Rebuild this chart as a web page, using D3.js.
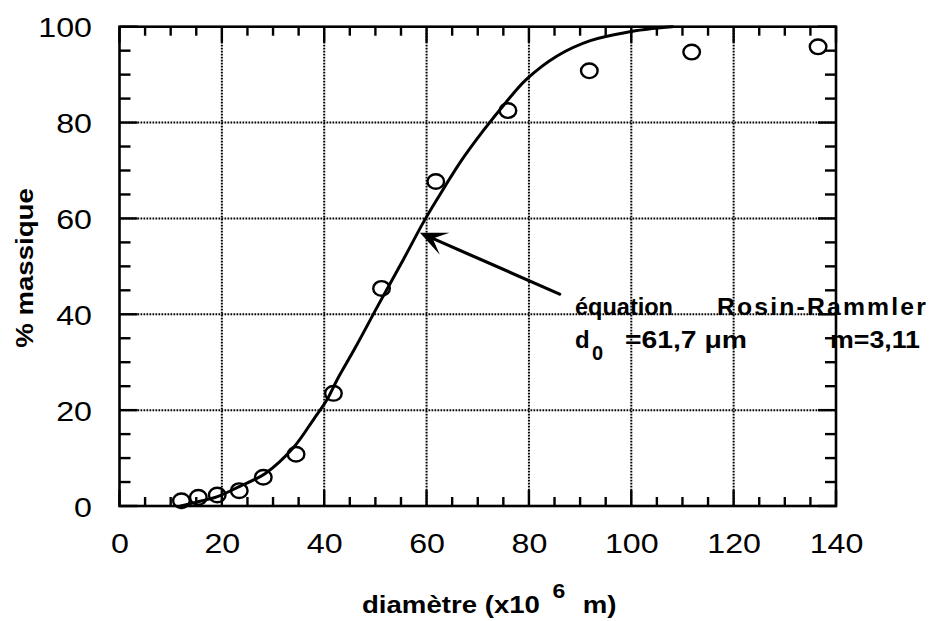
<!DOCTYPE html>
<html>
<head>
<meta charset="utf-8">
<script src="https://cdn.jsdelivr.net/npm/d3@7"></script>
<style>
  html, body { margin: 0; padding: 0; background: #fff; }
  svg { display: block; }
</style>
</head>
<body>
<svg id="chart" width="935" height="621"></svg>
<script>
// Measured particle size distribution: diameter (µm) vs cumulative mass %
const diameters   = [12.1, 15.4, 19.1, 23.4, 28.1, 34.5, 41.8, 51.2, 61.8, 75.9, 91.8, 111.8, 136.5];
const massPercent = [1.1, 1.8, 2.3, 3.2, 6.0, 10.8, 23.5, 45.4, 67.7, 82.5, 90.8, 94.7, 95.8];

// Rosin-Rammler fitted curve
const fitDiameters = [12, 15, 19, 23.5, 28.5, 34, 38, 40.5, 42.5, 46, 50.5, 55.5, 59.7, 63.5, 66.5, 71, 75.5, 79.5, 85.5, 92, 100, 104, 108];
const fitPercent   = [0, 0.8, 1.9, 4.1, 6.8, 12.2, 18.2, 22.1, 26.3, 32.9, 41.8, 51.5, 59.8, 66.5, 71.6, 78.2, 84.2, 89.0, 93.9, 97.1, 99, 99.6, 100];

// Axes
const xMajorTicks = [0, 20, 40, 60, 80, 100, 120, 140];
const yMajorTicks = [0, 20, 40, 60, 80, 100];
const tickStep = 5;
const xTitle = ["diamètre (x10", "6", "m)"];
const yTitle = "% massique";

// Annotation of the fitted law, with its arrow (data units)
const eqLine1 = ["équation", "Rosin-Rammler"];
const eqLine2 = ["d", "0", "=61,7 μm", "m=3,11"];
const arrowTip  = [58.7, 57.0];
const arrowTail = [86.0, 44.2];

const svg = d3.select("#chart");
const plotLeft = 119.5, plotRight = 836, plotTop = 26.7, plotBottom = 506;
const x = d3.scaleLinear().domain([0, 140]).range([plotLeft, plotRight]);
const y = d3.scaleLinear().domain([0, 100]).range([plotBottom, plotTop]);
const ink = "#000";
const stretch = "scale(1.15,1)";
const labelFont = "'Liberation Sans', Arial, Helvetica, sans-serif";

// dotted grid
const grid = svg.append("g")
  .attr("stroke", ink).attr("stroke-width", 2)
  .attr("stroke-dasharray", "1.7 1.3").attr("fill", "none");
grid.selectAll("line.v").data(xMajorTicks.slice(1, -1)).join("line")
  .attr("class", "v")
  .attr("x1", d => x(d)).attr("x2", d => x(d))
  .attr("y1", plotTop).attr("y2", plotBottom);
grid.selectAll("line.h").data(yMajorTicks.slice(1, -1)).join("line")
  .attr("class", "h")
  .attr("x1", plotLeft).attr("x2", plotRight)
  .attr("y1", d => y(d)).attr("y2", d => y(d));

// fitted curve
const curve = d3.line()
  .x((d, i) => x(fitDiameters[i]))
  .y((d, i) => y(fitPercent[i]))
  .curve(d3.curveCatmullRom.alpha(0.5));
svg.append("path")
  .datum(fitDiameters)
  .attr("d", curve)
  .attr("fill", "none").attr("stroke", ink)
  .attr("stroke-width", 3).attr("stroke-linejoin", "round").attr("stroke-linecap", "round");

// measured points, open circles
svg.append("g").selectAll("ellipse").data(diameters).join("ellipse")
  .attr("cx", (d) => x(d))
  .attr("cy", (d, i) => y(massPercent[i]))
  .attr("rx", 8.3).attr("ry", 7.3)
  .attr("fill", "none").attr("stroke", ink).attr("stroke-width", 2.4);

// frame
svg.append("rect")
  .attr("x", plotLeft).attr("y", plotTop)
  .attr("width", plotRight - plotLeft).attr("height", plotBottom - plotTop)
  .attr("fill", "none").attr("stroke", ink).attr("stroke-width", 2.6);

// ticks on all four sides, pointing inwards (every 5 units, longer on majors)
const xTickVals = d3.range(0, 140 + 0.1, tickStep);
const yTickVals = d3.range(0, 100 + 0.1, tickStep);
const xLen = d => (d % 20 === 0 ? 16 : 9);
const yLen = d => (d % 20 === 0 ? 18 : 11);
const ticks = svg.append("g");
ticks.selectAll("line.xb").data(xTickVals).join("line").attr("class", "xb")
  .attr("x1", d => x(d)).attr("x2", d => x(d))
  .attr("y1", plotBottom).attr("y2", d => plotBottom - xLen(d))
  .attr("stroke", ink).attr("stroke-width", 2.4);
ticks.selectAll("line.xt").data(xTickVals).join("line").attr("class", "xt")
  .attr("x1", d => x(d)).attr("x2", d => x(d))
  .attr("y1", plotTop).attr("y2", d => plotTop + xLen(d))
  .attr("stroke", ink).attr("stroke-width", 2.4);
ticks.selectAll("line.yl").data(yTickVals).join("line").attr("class", "yl")
  .attr("x1", plotLeft).attr("x2", d => plotLeft + yLen(d))
  .attr("y1", d => y(d)).attr("y2", d => y(d))
  .attr("stroke", ink).attr("stroke-width", 2.4);
ticks.selectAll("line.yr").data(yTickVals).join("line").attr("class", "yr")
  .attr("x1", plotRight).attr("x2", d => plotRight - yLen(d))
  .attr("y1", d => y(d)).attr("y2", d => y(d))
  .attr("stroke", ink).attr("stroke-width", 2.4);

// tick labels
svg.append("g")
  .attr("transform", `translate(0,${plotBottom})`)
  .call(d3.axisBottom(x).tickValues(xMajorTicks).tickSize(0).tickFormat(d3.format("d")))
  .call(g => g.select(".domain").remove())
  .call(g => g.selectAll("text")
    .attr("y", null).attr("dy", null)
    .attr("transform", `translate(0,47) ${stretch}`)
    .attr("font-family", labelFont).attr("font-size", 28).attr("fill", ink));
svg.append("g")
  .attr("transform", `translate(${plotLeft},0)`)
  .call(d3.axisLeft(y).tickValues(yMajorTicks).tickSize(0).tickFormat(d3.format("d")))
  .call(g => g.select(".domain").remove())
  .call(g => g.selectAll("text")
    .attr("x", null).attr("dy", null)
    .attr("transform", `translate(-27.5,10) ${stretch}`)
    .attr("font-family", labelFont).attr("font-size", 28).attr("fill", ink));

// axis titles
const title = svg.append("text")
  .attr("transform", `translate(362,613) ${stretch}`)
  .attr("font-family", labelFont).attr("font-weight", "bold")
  .attr("font-size", 24).attr("fill", ink);
title.append("tspan").text(xTitle[0]);
title.append("tspan").attr("dx", 11).attr("dy", -15).attr("font-size", 20).text(xTitle[1]);
title.append("tspan").attr("dx", 15).attr("dy", 15).text(xTitle[2]);

svg.append("text")
  .attr("transform", `translate(33,268) rotate(-90) ${stretch}`)
  .attr("text-anchor", "middle")
  .attr("font-family", labelFont).attr("font-weight", "bold")
  .attr("font-size", 24).attr("fill", ink)
  .text(yTitle);

// annotation arrow
const tip = [x(arrowTip[0]), y(arrowTip[1])];
const tail = [x(arrowTail[0]), y(arrowTail[1])];
const ang = Math.atan2(tail[1] - tip[1], tail[0] - tip[0]) * 180 / Math.PI;
const arrow = svg.append("g")
  .attr("transform", `translate(${tip[0]},${tip[1]}) rotate(${ang})`);
const len = Math.hypot(tail[0] - tip[0], tail[1] - tip[1]);
arrow.append("line")
  .attr("x1", 12).attr("y1", 0).attr("x2", len).attr("y2", 0)
  .attr("stroke", ink).attr("stroke-width", 3.2).attr("stroke-linecap", "round");
arrow.append("path")
  .attr("d", "M0,0 L27,-12 L14,0 L27,12 Z")
  .attr("fill", ink);

// annotation text
const ax = x(89.0), ay = y(39.85);
const ann = svg.append("g")
  .attr("font-family", labelFont).attr("font-weight", "bold").attr("fill", ink);
ann.append("text").attr("x", ax).attr("y", ay).attr("font-size", 24)
  .attr("textLength", 98).attr("lengthAdjust", "spacingAndGlyphs").text(eqLine1[0]);
ann.append("text").attr("x", ax + 142).attr("y", ay).attr("font-size", 23)
  .attr("letter-spacing", 2)
  .attr("textLength", 211).attr("lengthAdjust", "spacingAndGlyphs").text(eqLine1[1]);
ann.append("text").attr("x", ax).attr("y", ay + 33).attr("font-size", 24).text(eqLine2[0]);
ann.append("text").attr("x", ax + 17).attr("y", ay + 45).attr("font-size", 20).text(eqLine2[1]);
ann.append("text").attr("x", ax + 50).attr("y", ay + 33).attr("font-size", 23)
  .attr("textLength", 122).attr("lengthAdjust", "spacingAndGlyphs").text(eqLine2[2]);
ann.append("text").attr("x", ax + 255).attr("y", ay + 33).attr("font-size", 23)
  .attr("textLength", 90).attr("lengthAdjust", "spacingAndGlyphs").text(eqLine2[3]);
</script>
</body>
</html>
